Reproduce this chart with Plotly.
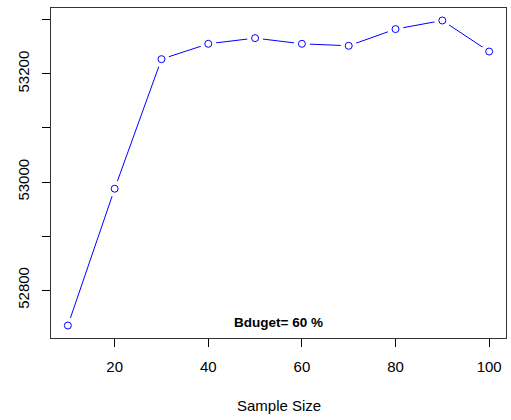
import plotly.graph_objects as go

sample_size = [10, 20, 30, 40, 50, 60, 70, 80, 90, 100]
values = [52734.6, 52987.6, 53227.2, 53255.6, 53266.1, 53255.6, 53251.9, 53282.8, 53298.7, 53241.3]
x_ticks = [20, 40, 60, 80, 100]
y_ticks = [52800, 52900, 53000, 53100, 53200, 53300]
y_labels = ["52800", "", "53000", "", "53200", ""]
note_text = "<b>Bduget= 60 %</b>"
x_title = "Sample Size"

FONT = "Liberation Sans, Arial, sans-serif"

fig = go.Figure()
fig.add_trace(go.Scatter(x=sample_size, y=values, mode="lines",
                         line=dict(color="blue", width=1), hoverinfo="skip"))
fig.add_trace(go.Scatter(x=sample_size, y=values, mode="markers",
                         marker=dict(symbol="circle", size=16, color="white", line=dict(width=0)),
                         hoverinfo="skip"))
fig.add_trace(go.Scatter(x=sample_size, y=values, mode="markers",
                         marker=dict(symbol="circle-open", size=7, color="blue", line=dict(width=1, color="blue"))))

fig.add_annotation(x=55.1, y=52741, text=note_text, showarrow=False,
                   font=dict(family=FONT, size=13.5, color="black"), xanchor="center", yanchor="middle")
fig.add_annotation(x=0.5, y=0, xref="paper", yref="paper", text=x_title, showarrow=False,
                   font=dict(family=FONT, size=15, color="black"), xanchor="center", yanchor="middle",
                   yshift=-67)

fig.update_layout(
    width=511, height=420,
    margin=dict(l=51, r=5, t=8, b=82),
    paper_bgcolor="white", plot_bgcolor="white",
    showlegend=False,
    font=dict(family=FONT, size=15, color="black"),
)
fig.update_xaxes(range=[6.4, 103.6], tickvals=x_ticks, ticks="outside", ticklen=8, tickcolor="black",
                 showline=True, linecolor="#333", linewidth=1, mirror=True, showgrid=False, zeroline=False,
                 ticklabelstandoff=7)
fig.update_yaxes(range=[52711.5, 53321.8], tickvals=y_ticks, ticktext=y_labels, ticks="outside", ticklen=8,
                 tickcolor="black", tickangle=-90,
                 showline=True, linecolor="#333", linewidth=1, mirror=True, showgrid=False, zeroline=False,
                 ticklabelstandoff=7)

fig.write_html("out.html")
